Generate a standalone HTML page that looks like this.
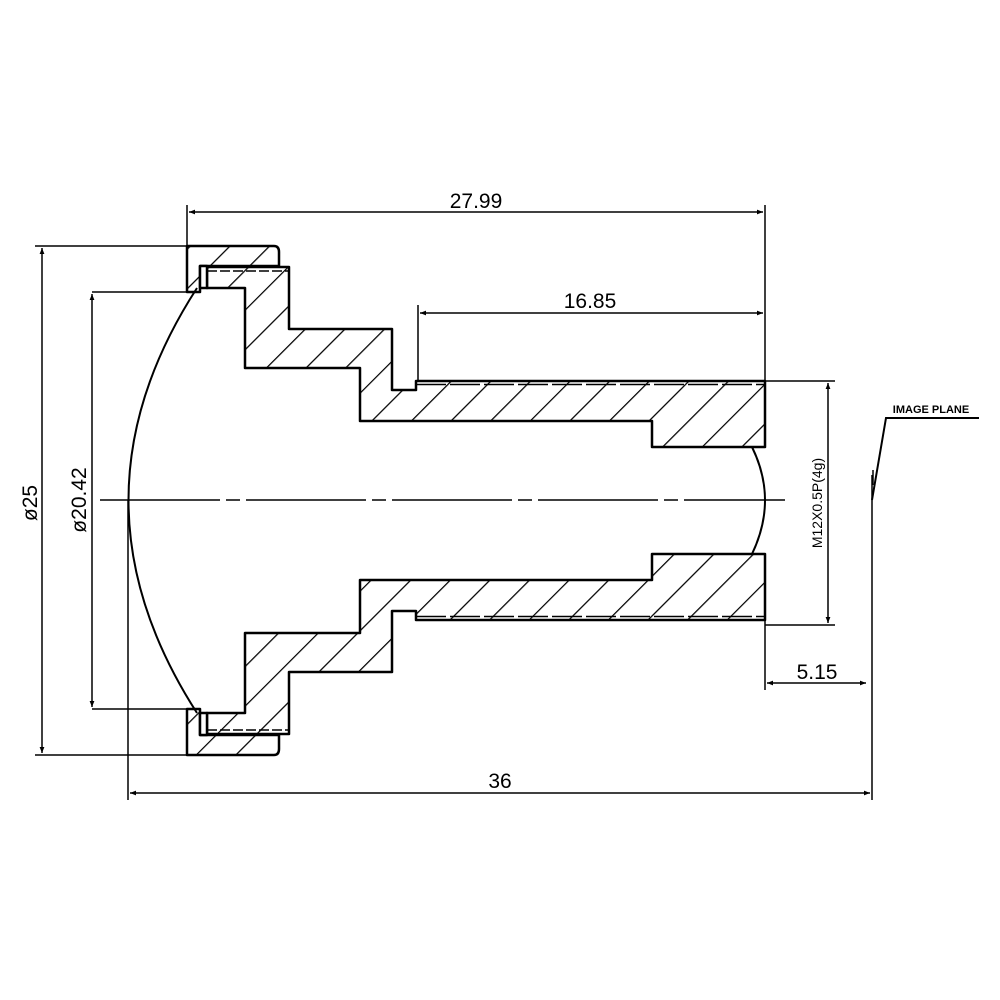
<!DOCTYPE html>
<html><head><meta charset="utf-8"><style>
html,body{margin:0;padding:0;background:#fff;}
svg{display:block;}
text{font-family:"Liberation Sans",sans-serif;fill:#000;}
</style></head><body>
<svg width="1000" height="1000" viewBox="0 0 1000 1000" xmlns="http://www.w3.org/2000/svg">
<defs>
<pattern id="h" patternUnits="userSpaceOnUse" width="28" height="28" patternTransform="rotate(45)">
<line x1="0" y1="0" x2="0" y2="28" stroke="#000" stroke-width="2.5"/>
</pattern>
<marker id="a" viewBox="0 0 10 10" refX="10" refY="5" markerWidth="8" markerHeight="6" orient="auto-start-reverse" markerUnits="userSpaceOnUse">
<path d="M0,1 L10,5 L0,9 z" fill="#000"/>
</marker>
<path id="body" d="M207,267 L289,267 L289,329 L392,329 L392,390 L416,390 L416,381 L765,381 L765,447 L652,447 L652,421 L360,421 L360,368 L245,368 L245,288 L207,288 Z"/>
<path id="cap" d="M187,246 L274,246 Q279,246 279,252 L279,266 L200,266 L200,292 L187,292 Z"/>
<clipPath id="c">
<use href="#body"/><use href="#cap"/>
<use href="#body" transform="translate(0,1001) scale(1,-1)"/>
<use href="#cap" transform="translate(0,1001) scale(1,-1)"/>
</clipPath>
<g id="half" stroke="#000" stroke-width="2.5" stroke-linejoin="round" fill="none">
<use href="#body"/>
<use href="#cap"/>
<rect x="200" y="266" width="7" height="22" fill="#fff"/>
<line x1="207" y1="271" x2="289" y2="271" stroke-width="1.5" stroke-dasharray="10,3"/>
<line x1="416" y1="384.5" x2="765" y2="384.5" stroke-width="1.5" stroke-dasharray="30,4"/>
<line x1="187" y1="292" x2="92" y2="292" stroke-width="1.5"/>
</g>
</defs>
<rect width="1000" height="1000" fill="#fff"/>
<rect x="150" y="200" width="650" height="600" fill="url(#h)" clip-path="url(#c)"/>
<use href="#half"/>
<use href="#half" transform="translate(0,1001) scale(1,-1)"/>
<path d="M197,288 Q60,500 197,713" fill="none" stroke="#000" stroke-width="2"/>
<path d="M752,447 Q778,500 752,554" fill="none" stroke="#000" stroke-width="2"/>
<line x1="100" y1="500" x2="785" y2="500" stroke="#000" stroke-width="1.5" stroke-dasharray="120,6,14,6"/>
<g stroke="#000" stroke-width="1.5" fill="none">
<line x1="187" y1="205" x2="187" y2="246"/>
<line x1="765" y1="205" x2="765" y2="381"/>
<line x1="189" y1="212" x2="763" y2="212" marker-start="url(#a)" marker-end="url(#a)"/>
<line x1="418" y1="305" x2="418" y2="381"/>
<line x1="420" y1="313" x2="763" y2="313" marker-start="url(#a)" marker-end="url(#a)"/>
<line x1="35" y1="246" x2="187" y2="246"/>
<line x1="35" y1="755" x2="187" y2="755"/>
<line x1="42" y1="248" x2="42" y2="753" marker-start="url(#a)" marker-end="url(#a)"/>
<line x1="92" y1="294" x2="92" y2="707" marker-start="url(#a)" marker-end="url(#a)"/>
<line x1="765" y1="381" x2="835" y2="381"/>
<line x1="765" y1="625" x2="835" y2="625"/>
<line x1="828" y1="383" x2="828" y2="623" marker-start="url(#a)" marker-end="url(#a)"/>
<line x1="765" y1="620" x2="765" y2="690"/>
<line x1="767" y1="683" x2="866" y2="683" marker-start="url(#a)" marker-end="url(#a)"/>
<line x1="128" y1="500" x2="128" y2="800"/>
<line x1="130" y1="793" x2="870" y2="793" marker-start="url(#a)" marker-end="url(#a)"/>
<line x1="872" y1="475" x2="872" y2="800"/>
<polyline points="872,500 886,418 979,418" stroke-width="2"/>
<line x1="873" y1="485" x2="873" y2="470"/>
</g>
<text x="476" y="208" font-size="21" text-anchor="middle">27.99</text>
<text x="590" y="308" font-size="21" text-anchor="middle">16.85</text>
<text x="817" y="679" font-size="21" text-anchor="middle">5.15</text>
<text x="500" y="788" font-size="21" text-anchor="middle">36</text>
<text x="931" y="413" font-size="11" font-weight="bold" text-anchor="middle">IMAGE PLANE</text>
<text transform="translate(37,503) rotate(-90)" font-size="21" text-anchor="middle">ø25</text>
<text transform="translate(86,500) rotate(-90)" font-size="21" text-anchor="middle">ø20.42</text>
<text transform="translate(822,503) rotate(-90)" font-size="14" font-family="Liberation Mono" text-anchor="middle">M12X0.5P(4g)</text>
</svg>
</body></html>
